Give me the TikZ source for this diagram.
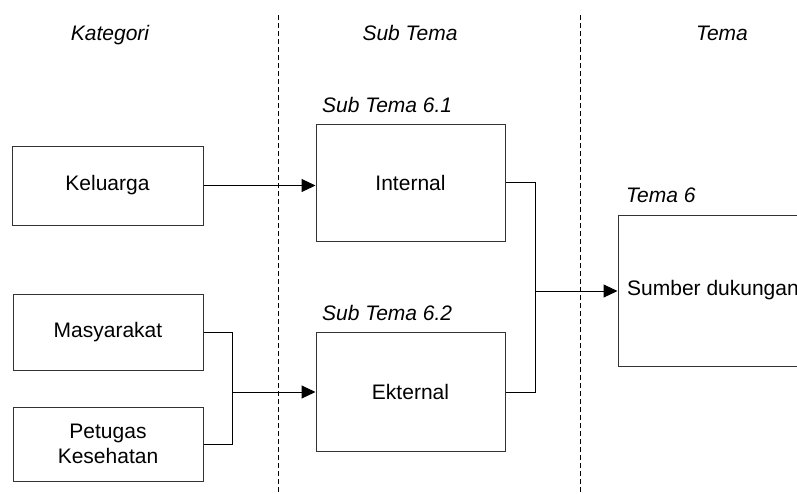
\documentclass[tikz,border=0pt]{standalone}
\usepackage{fontspec}
\setmainfont{Liberation Sans}
\usetikzlibrary{arrows.meta}
\begin{document}
\begin{tikzpicture}[x=1pt,y=-1pt,
  every node/.style={font=\fontsize{21}{24.5}\selectfont},
  box/.style={draw=black!80, line width=1pt, fill=white, align=center, inner sep=0pt},
  link/.style={draw=black, line width=1pt},
  arrow/.style={link, -{Triangle[length=14pt,width=13pt]}},
  divider/.style={draw=black, line width=0.9pt, dash pattern=on 5pt off 3pt},
  heading/.style={font=\fontsize{21}{24.5}\selectfont\itshape, anchor=base},
  caption/.style={font=\fontsize{21}{24.5}\selectfont\itshape, anchor=base west, inner sep=0pt}]
\useasboundingbox (0,0) rectangle (797,493);
\clip (0,0) rectangle (797,493);

% column dividers
\coordinate (d1top) at (278,15);
\coordinate (d1bot) at (278,493);
\coordinate (d2top) at (580,15);
\coordinate (d2bot) at (580,493);
\draw[divider] (d1top) -- (d1bot);
\draw[divider] (d2top) -- (d2bot);

% column headings
\node[heading] (hKat) at (110,40) {Kategori};
\node[heading] (hSub) at (410,40) {Sub Tema};
\node[heading] (hTema) at (722,40) {Tema};

% categories
\node[box, minimum width=191pt, minimum height=79pt] (Keluarga) at (107.5,185.5) {Keluarga};
\node[box, minimum width=190pt, minimum height=76pt] (Masyarakat) at (108,332) {Masyarakat};
\node[box, minimum width=190pt, minimum height=74pt] (Petugas) at (108,444) {Petugas\\Kesehatan};

% sub themes
\node[caption] (cap61) at (322,112) {Sub Tema 6.1};
\node[box, minimum width=189pt, minimum height=117pt] (Internal) at (410.5,182.5) {Internal};
\node[caption] (cap62) at (322,320) {Sub Tema 6.2};
\node[box, minimum width=189pt, minimum height=119pt] (Ekternal) at (410.5,392) {Ekternal};

% theme
\node[caption] (cap6) at (626,202) {Tema 6};
\node[box, minimum width=190pt, minimum height=151pt] (Sumber) at (713,290.5) {Sumber dukungan};

% connectors
\coordinate (j1) at (232,392);
\coordinate (j2) at (535,291);
\draw[arrow] (Keluarga.east) -- (Keluarga.east -| Internal.west);
\draw[link] (Masyarakat.east) -| (j1);
\draw[link] (Petugas.east) -| (j1);
\draw[arrow] (j1) -- (j1 -| Ekternal.west);
\draw[link] (Internal.east) -| (j2);
\draw[link] (Ekternal.east) -| (j2);
\draw[arrow] (j2) -- (j2 -| Sumber.west);
\end{tikzpicture}
\end{document}
